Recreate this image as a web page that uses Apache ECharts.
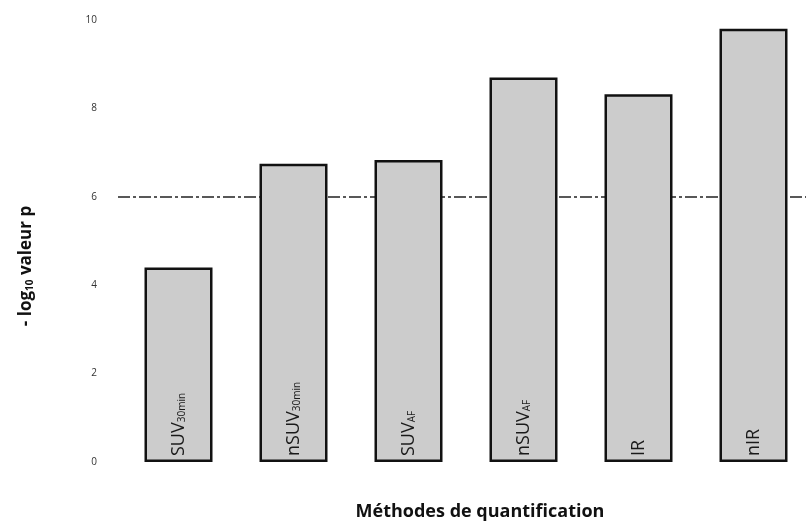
<!DOCTYPE html>
<html>
<head>
<meta charset="utf-8">
<script src="https://cdn.jsdelivr.net/npm/echarts@6/dist/echarts.min.js"></script>
<style>html,body{margin:0;padding:0;background:#fff;}#c{width:806px;height:526px;}</style>
</head>
<body>
<div id="c"></div>
<script>
var categories = ['SUV30min', 'nSUV30min', 'SUVAF', 'nSUVAF', 'IR', 'nIR'];
var labelMain = ['SUV', 'nSUV', 'SUV', 'nSUV', 'IR', 'nIR'];
var labelSub = ['30min', '30min', 'AF', 'AF', '', ''];
var values = [4.4, 6.75, 6.83, 8.7, 8.32, 9.8];
var threshold = 6;
var yTicks = [0, 2, 4, 6, 8, 10];

var chart = echarts.init(document.getElementById('c'));
var font = '"Open Sans", "Noto Sans", sans-serif';
chart.setOption({
  backgroundColor: '#fff',
  animation: false,
  grid: { left: 121, top: 20, width: 690, height: 442, outerBoundsMode: 'none', containLabel: false },
  xAxis: {
    type: 'category',
    data: categories,
    axisLine: { show: false },
    axisTick: { show: false },
    axisLabel: { show: false },
    name: 'Méthodes de quantification',
    nameLocation: 'middle',
    nameGap: 41,
    nameTextStyle: { fontFamily: font, fontWeight: 'bold', fontSize: 18, color: '#111', padding: [0, 0, 0, 28] }
  },
  yAxis: {
    type: 'value',
    min: 0, max: 10, interval: 2,
    axisLine: { show: false },
    axisTick: { show: false },
    splitLine: { show: false },
    axisLabel: { fontFamily: font, fontSize: 10, color: '#333', margin: 24,
      formatter: function (v) { return yTicks.indexOf(v) >= 0 ? String(v) : ''; } },
    name: '{a|- log}{s|10}{a| valeur p}',
    nameLocation: 'middle',
    nameGap: 86,
    nameTextStyle: {
      padding: [0, 0, 0, -50],
      rich: {
        a: { fontFamily: font, fontWeight: 'bold', fontSize: 17, color: '#111' },
        s: { fontFamily: font, fontWeight: 'bold', fontSize: 10, color: '#111', verticalAlign: 'bottom', padding: [8, 0, 0, 0] }
      }
    }
  },
  series: [
    {
      type: 'bar',
      data: values,
      barWidth: 68,
      z: 3,
      itemStyle: { color: '#cccccc', borderColor: '#111', borderWidth: 2.5 },
      label: {
        show: true,
        position: 'insideBottom',
        rotate: 90,
        align: 'left',
        verticalAlign: 'middle',
        distance: 6,
        formatter: function (p) {
          var i = p.dataIndex;
          return '{m|' + labelMain[i] + '}' + (labelSub[i] ? '{s|' + labelSub[i] + '}' : '');
        },
        rich: {
          m: { fontFamily: font, fontSize: 18, color: '#1a1a1a' },
          s: { fontFamily: font, fontSize: 10, color: '#1a1a1a', verticalAlign: 'bottom', padding: [8, 0, 0, 0] }
        }
      }
    },
    {
      type: 'line',
      data: [],
      z: 1,
      markLine: {
        silent: true,
        z: 1,
        symbol: ['none', 'none'],
        label: { show: false },
        lineStyle: { color: '#222', width: 1.5, type: [12, 3, 3, 3] },
        data: [[{ yAxis: threshold, x: 118 }, { yAxis: threshold, x: 806 }]]
      }
    }
  ]
});
</script>
</body>
</html>
